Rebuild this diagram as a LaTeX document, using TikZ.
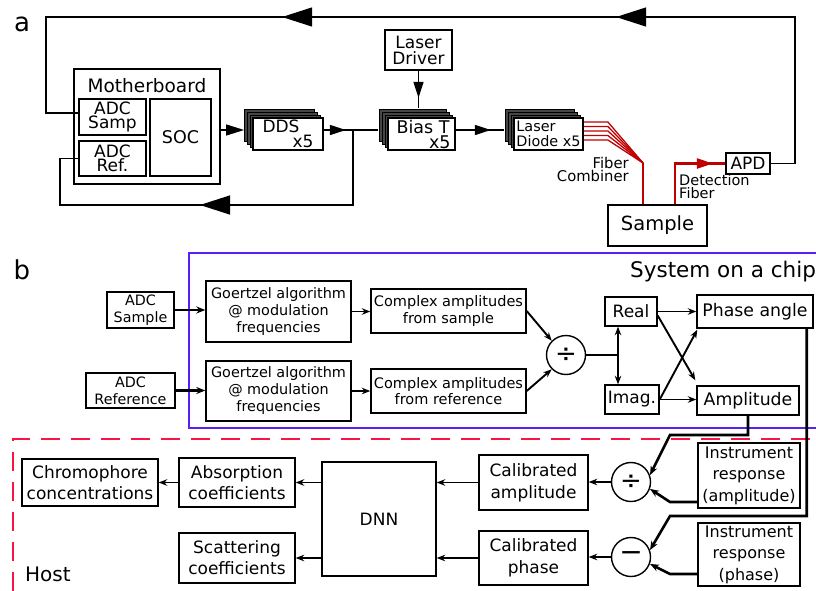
\documentclass[tikz,border=0pt]{standalone}
\usepackage{fontspec}
\setmainfont{DejaVu Sans}
\usetikzlibrary{arrows.meta,decorations.markings,shadows}

\newcommand{\fsz}[2]{\fontsize{#1}{#2}\selectfont}

\definecolor{fiberred}{RGB}{192,0,0}
\definecolor{socblue}{RGB}{90,30,250}
\definecolor{hostred}{RGB}{250,20,70}
\definecolor{stackgray}{RGB}{70,70,70}

\begin{document}
\begin{tikzpicture}[x=1pt,y=-1pt,
  box/.style={draw, line width=1.4pt, inner sep=0pt, align=center, fill=white},
  boxa/.style={box, line width=1.8pt},
  stackbox/.style={boxa,
    general shadow={shadow xshift=-9pt,shadow yshift=9pt,fill=stackgray,draw=black,line width=1pt},
    general shadow={shadow xshift=-6pt,shadow yshift=6pt,fill=stackgray,draw=black,line width=1pt},
    general shadow={shadow xshift=-3pt,shadow yshift=3pt,fill=stackgray,draw=black,line width=1pt}},
  conn/.style={line width=1.3pt},
  fiber/.style={fiberred, line width=1.3pt},
  bigtri/.tip={Triangle[length=30pt,width=19pt]},
  midtri/.tip={Triangle[length=16pt,width=10pt]},
  barrow/.style={line width=1.9pt, -{Stealth[length=8.5pt,width=6.5pt]}},
  tharrow/.style={line width=2.6pt, -{Stealth[length=9pt,width=7pt]}},
  onearrow/.style 2 args={postaction={decorate,decoration={markings,mark=at position #1 with {\arrow{#2}}}}},
  twoarrows/.style 2 args={postaction={decorate,decoration={markings,
      mark=at position #1 with {\arrow{bigtri}},
      mark=at position #2 with {\arrow{bigtri}}}}},
  circ/.style={circle, draw, line width=1.4pt, minimum size=39pt, inner sep=0pt, fill=white}
]
\useasboundingbox (0,0) rectangle (816,590);

% ---------- panel labels ----------
\node[font=\fsz{26}{30}] (lbla) at (22,24) {a};
\node[font=\fsz{26}{30}] (lblb) at (22,270) {b};

% ---------- (a) hardware ----------
\node[boxa, minimum width=146pt, minimum height=115pt] (mb) at (147,126.5) {};
\node[font=\fsz{18.5}{20}, anchor=base] (mbt) at (147,92) {Motherboard};
\node[box, line width=1.5pt, minimum width=67pt, minimum height=36pt, font=\fsz{17}{14.5}] (adcsa) at (112.5,117) {ADC\\Samp};
\node[box, line width=1.5pt, minimum width=67pt, minimum height=35pt, font=\fsz{17}{14.5}] (adcre) at (112.5,158.5) {ADC\\Ref.};
\node[box, line width=1.5pt, minimum width=61pt, minimum height=77pt, font=\fsz{17.5}{20}] (soc) at (180.5,137.5) {SOC};

\node[stackbox, minimum width=70pt, minimum height=32pt, font=\fsz{17}{15}] (dds) at (288,134)
  {\makebox[51pt][l]{DDS}\\\makebox[51pt][r]{x5}};
\node[stackbox, minimum width=67pt, minimum height=32pt, font=\fsz{17.5}{15}] (bt) at (421.5,134)
  {\makebox[58pt][l]{\hspace{4pt}Bias T}\\\makebox[58pt][r]{x5}};
\node[stackbox, minimum width=69pt, minimum height=32pt, font=\fsz{14.4}{15}, align=left] (ldi) at (548.5,134)
  {Laser\\Diode x5};
\node[boxa, minimum width=67pt, minimum height=40pt, font=\fsz{17}{16}] (drv) at (418.5,50) {Laser\\Driver};
\node[boxa, minimum width=99pt, minimum height=41pt, font=\fsz{19.5}{20}] (smp) at (657.5,225.5) {Sample};
\node[boxa, minimum width=44pt, minimum height=21pt, font=\fsz{17}{18}] (apd) at (748,163.5) {APD};

\node[font=\fsz{14.8}{13}, align=right, anchor=north east, inner sep=0pt] (fc) at (629,157) {Fiber\\Combiner};
\node[font=\fsz{14.5}{13.5}, align=left, anchor=north west, inner sep=0pt] (df) at (679,174) {Detection\\Fiber};

% helper points of the signal loops
\coordinate (tr) at (795,17);
\coordinate (tl) at (46,17);
\coordinate (j) at (353,130);
\coordinate (rb) at (353,205);
\coordinate (rl) at (60,205);
\coordinate (ddsin) at ([xshift=-8pt,yshift=4pt]dds.west);
\coordinate (btin) at ([xshift=-9pt,yshift=4pt]bt.west);
\coordinate (btup) at ([yshift=9pt]bt.north);
\coordinate (ldin) at ([xshift=-9pt,yshift=4pt]ldi.west);
\coordinate (comb) at (643,163);
\coordinate (sd) at ([xshift=17.5pt]smp.north);

% detector signal back to the sample ADC
\draw[conn, twoarrows={349.5pt}{683.5pt}] (apd.east) -| (tr) -- (tl) |- ([yshift=4pt]adcsa.west);
% reference signal back to the reference ADC
\draw[conn, onearrow={228pt}{bigtri}] (j) -- (rb) -- (rl) |- (adcre.west);
% modulation chain
\draw[conn, -{Triangle[length=18pt,width=11pt]}] (mb.east |- ddsin) -- (ddsin);
\draw[conn, onearrow={22pt}{midtri}] ([yshift=4pt]dds.east) -- (j) -- (btin);
\draw[conn, onearrow={27pt}{midtri}] (drv.south) -- (drv.south |- btup);
\draw[conn, onearrow={35pt}{midtri}] ([yshift=4pt]bt.east) -- (ldin);
% optical fibres
\foreach \dy in {12,7.5,3,-1.5,-6}
  \draw[fiber] ([yshift=\dy pt]ldi.east) -- ++(24,0) -- (comb);
\draw[fiber, line width=2.6pt] (comb) -- (comb |- smp.north);
\draw[fiber, line width=2.4pt, onearrow={78.5pt}{midtri}] (sd) |- (apd.west);

% ---------- (b) processing ----------
\draw[socblue, line width=2.5pt] (189,253) rectangle (840,428);
\draw[hostred, line width=2.5pt, dash pattern=on 19pt off 11pt] (840,439) -- (13,439) -- (13,600);
\node[font=\fsz{21.5}{24}, anchor=base west, inner sep=0pt] (soct) at (630,277) {System on a chip};
\node[font=\fsz{20}{24}, anchor=base west, inner sep=0pt] (hostt) at (25,581) {Host};

\node[box, minimum width=67pt, minimum height=36pt, font=\fsz{14.3}{16.7}] (adcs) at (140.5,310) {ADC\\Sample};
\node[box, minimum width=89pt, minimum height=35pt, font=\fsz{14.3}{16.7}] (adcr) at (130.5,390.5) {ADC\\Reference};
\node[box, minimum width=145pt, minimum height=61pt, font=\fsz{14.4}{17}] (g1) at (278.5,311.5) {Goertzel algorithm\\@ modulation\\frequencies};
\node[box, minimum width=145pt, minimum height=60pt, font=\fsz{14.4}{17}] (g2) at (278.5,391) {Goertzel algorithm\\@ modulation\\frequencies};
\node[box, minimum width=155pt, minimum height=44pt, font=\fsz{14.5}{16.7}] (c1) at (448.5,311) {Complex amplitudes\\from sample};
\node[box, minimum width=155pt, minimum height=44pt, font=\fsz{14.5}{16.7}] (c2) at (448.5,391) {Complex amplitudes\\from reference};
\node[circ, font=\fsz{26}{26}] (dv1) at (566,355) {÷};
\node[box, minimum width=52pt, minimum height=29pt, font=\fsz{17}{18}] (real) at (631,311.5) {Real};
\node[box, minimum width=54pt, minimum height=29pt, font=\fsz{17}{18}] (imag) at (632,399.5) {Imag.};
\node[box, minimum width=116pt, minimum height=33pt, font=\fsz{17.3}{18}] (phase) at (755,311.5) {Phase angle};
\node[box, minimum width=102pt, minimum height=29pt, font=\fsz{17.3}{18}] (amp) at (748,400.5) {Amplitude};

\node[box, minimum width=102pt, minimum height=65pt, font=\fsz{16}{21.5}] (ira) at (749,475.5) {Instrument\\response\\(amplitude)};
\node[box, minimum width=102pt, minimum height=63pt, font=\fsz{16}{21.5}] (irp) at (749,554.5) {Instrument\\response\\(phase)};
\node[circ, font=\fsz{26}{26}] (dv2) at (631,482) {÷};
\node[circ, font=\fsz{28}{28}] (mn) at (631,557) {−};
\node[box, minimum width=109pt, minimum height=55pt, font=\fsz{17}{21.7}] (ca) at (533.5,482.5) {Calibrated\\amplitude};
\node[box, minimum width=109pt, minimum height=54pt, font=\fsz{17}{21.7}] (cp) at (533.5,558) {Calibrated\\phase};
\node[box, minimum width=114pt, minimum height=114pt, font=\fsz{17}{20}] (dnn) at (379,519) {DNN};
\node[box, minimum width=116pt, minimum height=49pt, font=\fsz{17}{21}] (abs) at (237,482.5) {Absorption\\coefficients};
\node[box, minimum width=116pt, minimum height=50pt, font=\fsz{17}{21}] (sca) at (237,558) {Scattering\\coefficients};
\node[box, minimum width=136pt, minimum height=47pt, font=\fsz{17}{21}] (chr) at (90,482.5) {Chromophore\\concentrations};

\coordinate (jr) at (618,355);
\coordinate (k1) at (670,435);
\coordinate (k2) at (670,516);
\coordinate (k3) at (670,502);
\coordinate (k4) at (670,574);
\coordinate (pd) at ([xshift=-7pt]phase.south east);

\draw[tharrow] (adcs.east) -- (adcs.east -| g1.west);
\draw[tharrow] (adcr.east) -- (adcr.east -| g2.west);
\draw[barrow] (g1.east) -- (g1.east -| c1.west);
\draw[barrow] (g2.east) -- (g2.east -| c2.west);
\draw[barrow] (c1.east) -- (dv1.135);
\draw[barrow] (c2.east) -- (dv1.225);
\draw[line width=1.9pt] (dv1.east) -- (jr);
\draw[line width=1.9pt, {Stealth[length=8.5pt,width=6.5pt]}-{Stealth[length=8.5pt,width=6.5pt]}] (real.south -| jr) -- (imag.north -| jr);
\draw[barrow] (real.east) -- (real.east -| phase.west);
\draw[barrow] (imag.east) -- (imag.east -| amp.west);
\draw[barrow] ([yshift=-4pt]real.east) -- ([xshift=-1pt,yshift=5pt]amp.north west);
\draw[barrow] (imag.east) -- ([xshift=1pt,yshift=-1pt]phase.south west);

\draw[tharrow] (amp.south) |- (k1) -- (dv2.20);
\draw[tharrow] (pd) |- (k2) -- (mn.20);
\draw[tharrow] (ira.west |- k3) -- (k3) -- (dv2.-20);
\draw[tharrow] (irp.west |- k4) -- (k4) -- (mn.-20);
\draw[barrow] (dv2.west) -- (dv2.west -| ca.east);
\draw[barrow] (mn.west) -- (mn.west -| cp.east);
\draw[barrow] (ca.west) -- (ca.west -| dnn.east);
\draw[barrow] (cp.west) -- (cp.west -| dnn.east);
\draw[barrow] (abs.east -| dnn.west) -- (abs.east);
\draw[barrow] (sca.east -| dnn.west) -- (sca.east);
\draw[barrow] (abs.west) -- (chr.east);
\end{tikzpicture}
\end{document}
